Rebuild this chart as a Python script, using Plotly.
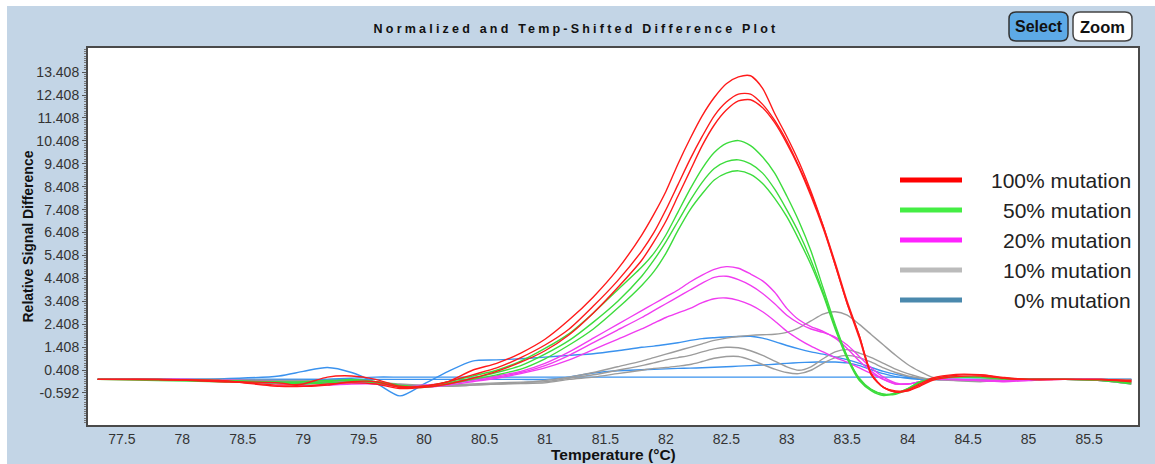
import plotly.graph_objects as go

# ---------------- data ----------------
temperature = [77.3, 77.8, 78.3, 78.8, 79.0, 79.2, 79.4, 79.6, 79.8, 80.0, 80.2, 80.4, 80.6, 80.8,
               81.0, 81.2, 81.4, 81.6, 81.8, 81.9, 82.0, 82.1, 82.2, 82.3, 82.4, 82.5, 82.6, 82.7, 82.8, 82.9,
               83.0, 83.1, 83.2, 83.3, 83.4, 83.5, 83.6, 83.7, 83.8, 83.9, 84.0, 84.1,
               84.2, 84.4, 84.6, 84.8, 85.0, 85.3, 85.6, 85.85]

mut100_a = [0.0, -0.02, -0.05, -0.25, -0.2, 0.1, 0.15, 0.0, -0.3, -0.3, -0.1, 0.4, 0.7, 1.15,
            1.75, 2.6, 3.6, 4.8, 6.3, 7.2, 8.2, 9.4, 10.5, 11.5, 12.3, 12.9, 13.2, 13.25, 12.7, 11.6,
            10.6, 9.5, 8.2, 6.7, 5.0, 3.3, 1.9, 0.2, -0.35, -0.55, -0.45, -0.2,
            0.05, 0.22, 0.2, 0.05, 0.0, 0.0, 0.0, -0.05]
mut100_b = [0.0, 0.0, -0.1, -0.15, -0.3, -0.25, -0.1, -0.1, -0.35, -0.3, -0.1, 0.2, 0.5, 0.95,
            1.5, 2.2, 3.2, 4.3, 5.6, 6.4, 7.4, 8.5, 9.6, 10.6, 11.5, 12.1, 12.45, 12.45, 12.0, 11.3,
            10.4, 9.3, 8.1, 6.7, 5.1, 3.4, 1.9, 0.25, -0.35, -0.55, -0.5, -0.25,
            0.0, 0.18, 0.2, 0.08, 0.0, 0.0, -0.02, -0.1]
mut100_c = [0.0, 0.0, -0.05, -0.3, -0.3, -0.2, -0.15, -0.2, -0.4, -0.35, -0.2, 0.05, 0.35, 0.75,
            1.25, 1.95, 2.9, 4.0, 5.2, 6.0, 6.9, 8.0, 9.1, 10.2, 11.1, 11.75, 12.15, 12.2, 11.85, 11.2,
            10.3, 9.25, 8.0, 6.6, 5.0, 3.3, 1.8, 0.2, -0.35, -0.5, -0.5, -0.3,
            -0.05, 0.12, 0.15, 0.05, 0.0, 0.0, 0.0, -0.05]

mut50_a = [0.0, 0.0, -0.05, -0.1, -0.15, -0.1, 0.0, -0.1, -0.3, -0.3, -0.1, 0.15, 0.4, 0.8,
           1.35, 2.0, 2.9, 3.9, 4.9, 5.5, 6.3, 7.3, 8.3, 9.2, 9.9, 10.3, 10.42, 10.2, 9.7, 9.0,
           8.0, 6.9, 5.6, 4.0, 2.4, 1.0, 0.05, -0.45, -0.65, -0.65, -0.45, -0.15,
           0.02, 0.12, 0.1, 0.05, 0.0, 0.0, -0.05, -0.15]
mut50_b = [0.0, 0.0, -0.05, -0.15, -0.2, -0.15, -0.1, -0.1, -0.25, -0.3, -0.15, 0.05, 0.3, 0.6,
           1.1, 1.7, 2.5, 3.4, 4.5, 5.2, 6.0, 6.9, 7.8, 8.6, 9.2, 9.5, 9.58, 9.4, 9.0, 8.3,
           7.4, 6.4, 5.2, 3.8, 2.3, 1.0, 0.0, -0.45, -0.65, -0.6, -0.4, -0.12,
           0.02, 0.1, 0.1, 0.03, 0.0, 0.0, -0.05, -0.2]
mut50_c = [0.0, -0.05, -0.1, -0.15, -0.1, -0.05, -0.05, -0.15, -0.3, -0.35, -0.2, 0.0, 0.2, 0.45,
           0.9, 1.5, 2.2, 3.1, 4.1, 4.7, 5.5, 6.5, 7.4, 8.1, 8.7, 9.0, 9.1, 8.95, 8.55, 7.9,
           7.1, 6.1, 5.0, 3.7, 2.2, 0.9, -0.05, -0.5, -0.7, -0.6, -0.4, -0.1,
           0.0, 0.1, 0.08, 0.02, 0.0, 0.0, -0.02, -0.1]

mut20_a = [0.0, 0.02, -0.05, -0.2, -0.2, -0.15, -0.1, -0.15, -0.3, -0.25, -0.15, 0.0, 0.15, 0.35,
           0.7, 1.2, 1.8, 2.4, 3.0, 3.3, 3.6, 3.9, 4.25, 4.55, 4.8, 4.92, 4.85, 4.6, 4.3, 3.8,
           3.1, 2.6, 2.3, 2.1, 1.8, 1.35, 0.8, 0.35, 0.0, -0.2, -0.2, -0.1,
           0.0, -0.02, -0.05, -0.1, -0.05, 0.0, -0.05, -0.2]
mut20_b = [0.0, 0.0, -0.05, -0.15, -0.15, -0.1, -0.05, -0.1, -0.25, -0.3, -0.2, -0.05, 0.1, 0.3,
           0.6, 1.05, 1.6, 2.15, 2.7, 3.0, 3.3, 3.6, 3.9, 4.2, 4.45, 4.5, 4.35, 4.1, 3.75, 3.3,
           2.8, 2.45, 2.2, 2.05, 1.85, 1.5, 1.0, 0.5, 0.1, -0.15, -0.2, -0.1,
           0.0, 0.0, -0.03, -0.05, 0.0, 0.0, -0.05, -0.15]
mut20_c = [0.0, 0.0, -0.02, -0.1, -0.25, -0.25, -0.2, -0.2, -0.3, -0.35, -0.25, -0.1, 0.05, 0.25,
           0.5, 0.85, 1.3, 1.75, 2.2, 2.45, 2.7, 2.9, 3.1, 3.35, 3.52, 3.55, 3.45, 3.25, 2.95, 2.55,
           2.1, 1.75, 1.45, 1.2, 0.95, 0.75, 0.5, 0.25, 0.0, -0.2, -0.2, -0.1,
           0.0, 0.0, -0.05, -0.08, 0.0, 0.0, 0.0, -0.1]

mut10_a = [0.0, 0.0, -0.05, -0.1, -0.15, -0.15, -0.1, -0.2, -0.3, -0.3, -0.3, -0.25, -0.2, -0.15,
           -0.05, 0.1, 0.3, 0.55, 0.8, 0.95, 1.1, 1.25, 1.4, 1.55, 1.7, 1.8, 1.87, 1.92, 1.95, 1.97,
           2.05, 2.25, 2.55, 2.85, 2.95, 2.8, 2.4, 1.95, 1.5, 1.05, 0.65, 0.35,
           0.1, -0.05, -0.1, -0.05, 0.0, 0.02, 0.0, -0.05]
mut10_b = [0.0, 0.0, -0.05, -0.1, -0.1, -0.05, -0.05, -0.1, -0.2, -0.25, -0.25, -0.2, -0.15, -0.12,
           -0.1, 0.05, 0.2, 0.4, 0.6, 0.72, 0.85, 0.95, 1.05, 1.2, 1.33, 1.4, 1.38, 1.25, 1.05, 0.8,
           0.55, 0.4, 0.55, 0.9, 1.2, 1.3, 1.15, 0.95, 0.7, 0.45, 0.25, 0.1,
           0.0, -0.05, -0.05, 0.0, 0.0, 0.0, 0.0, -0.05]
mut10_c = [0.0, 0.0, 0.0, -0.05, -0.05, -0.1, -0.1, -0.15, -0.25, -0.3, -0.3, -0.25, -0.2, -0.18,
           -0.15, 0.0, 0.1, 0.25, 0.4, 0.48, 0.52, 0.58, 0.65, 0.78, 0.92, 1.0, 1.0, 0.85, 0.65, 0.45,
           0.3, 0.25, 0.4, 0.7, 0.95, 1.05, 0.95, 0.75, 0.5, 0.3, 0.15, 0.05,
           0.0, 0.0, -0.03, 0.0, 0.0, 0.0, 0.0, 0.0]

mut0_a = [0.0, 0.0, 0.02, 0.15, 0.35, 0.52, 0.3, -0.15, -0.72, -0.2, 0.35, 0.8, 0.85, 0.9,
          0.97, 1.05, 1.12, 1.25, 1.4, 1.45, 1.52, 1.6, 1.7, 1.78, 1.82, 1.85, 1.87, 1.88, 1.8, 1.65,
          1.48, 1.33, 1.2, 1.1, 0.98, 0.86, 0.7, 0.52, 0.35, 0.22, 0.12, 0.05,
          0.0, 0.0, 0.0, 0.0, 0.0, 0.0, 0.0, 0.0]
mut0_b = [0.0, 0.0, 0.0, 0.0, 0.0, 0.0, 0.0, 0.0, 0.0, 0.0, 0.0, 0.0, 0.0, 0.0,
          0.0, 0.1, 0.28, 0.38, 0.42, 0.44, 0.46, 0.48, 0.49, 0.51, 0.53, 0.55, 0.58, 0.6, 0.63, 0.66,
          0.7, 0.73, 0.75, 0.76, 0.76, 0.72, 0.6, 0.42, 0.25, 0.12, 0.05, 0.0,
          0.0, 0.0, 0.0, 0.0, 0.0, 0.0, 0.0, 0.0]
mut0_c = [0.0, 0.0, 0.0, 0.0, 0.0, 0.0, 0.05, 0.1, 0.1, 0.1, 0.1, 0.1, 0.1, 0.1,
          0.1, 0.1, 0.1, 0.1, 0.1, 0.1, 0.1, 0.1, 0.1, 0.1, 0.1, 0.1, 0.1, 0.1, 0.1, 0.1,
          0.1, 0.1, 0.1, 0.1, 0.1, 0.1, 0.1, 0.1, 0.1, 0.1, 0.08, 0.04,
          0.0, 0.0, 0.0, 0.0, 0.0, 0.0, 0.0, 0.0]

y_tick_values = [13.408, 12.408, 11.408, 10.408, 9.408, 8.408, 7.408, 6.408, 5.408,
                 4.408, 3.408, 2.408, 1.408, 0.408, -0.592]
y_tick_labels = ["13.408", "12.408", "11.408", "10.408", "9.408", "8.408", "7.408", "6.408",
                 "5.408", "4.408", "3.408", "2.408", "1.408", "0.408", "-0.592"]
x_tick_values = [77.5, 78, 78.5, 79, 79.5, 80, 80.5, 81, 81.5, 82, 82.5, 83, 83.5, 84, 84.5, 85, 85.5]
x_tick_labels = ["77.5", "78", "78.5", "79", "79.5", "80", "80.5", "81", "81.5", "82",
                 "82.5", "83", "83.5", "84", "84.5", "85", "85.5"]

legend_labels = ["100% mutation", "50% mutation", "20% mutation", "10% mutation", "0% mutation"]
legend_colors = ["#FF0000", "#44EE44", "#FF22FF", "#BBBBBB", "#4A89AD"]

# ---------------- figure ----------------
FONT = "Liberation Sans, Arial, sans-serif"
W, H = 1155, 464
L, R, T, B = 88, 17, 48, 39
PW, PH = W - L - R, H - T - B


def px(xp):
    return (xp - L) / PW


def py(yp):
    return (H - B - yp) / PH


groups = [
    ([mut0_c, mut0_b, mut0_a], "#3A92EE"),
    ([mut10_c, mut10_b, mut10_a], "#9C9C9C"),
    ([mut20_c, mut20_b, mut20_a], "#F03CF0"),
    ([mut50_c, mut50_b, mut50_a], "#3CDC3C"),
    ([mut100_c, mut100_b, mut100_a], "#FF1A1A"),
]

fig = go.Figure()
for series, color in groups:
    for s in series:
        fig.add_trace(go.Scatter(
            x=temperature, y=s, mode="lines",
            line=dict(color=color, width=1.4, shape="spline", smoothing=0.7),
            showlegend=False, hoverinfo="skip"))

shapes = []
annotations = []

# white outer strips
shapes.append(dict(type="rect", xref="paper", yref="paper", x0=px(0), x1=px(7), y0=py(H), y1=py(0),
                   fillcolor="white", line=dict(width=0), layer="below"))
shapes.append(dict(type="rect", xref="paper", yref="paper", x0=px(0), x1=px(W), y0=py(6), y1=py(0),
                   fillcolor="white", line=dict(width=0), layer="below"))

# custom legend
legend_y = [180, 210, 240, 270, 300]
for lab, col, yy in zip(legend_labels, legend_colors, legend_y):
    shapes.append(dict(type="line", xref="paper", yref="paper", x0=px(900), x1=px(962),
                       y0=py(yy), y1=py(yy), line=dict(color=col, width=5)))
    annotations.append(dict(text=lab, xref="paper", yref="paper", x=px(1133), y=py(yy),
                            xanchor="right", yanchor="middle", showarrow=False,
                            font=dict(family=FONT, size=21, color="#222222")))


def rounded(x0, y0, x1, y1, r):
    pts = [
        f"M {px(x0 + r)} {py(y0)}",
        f"L {px(x1 - r)} {py(y0)}",
        f"Q {px(x1)} {py(y0)} {px(x1)} {py(y0 + r)}",
        f"L {px(x1)} {py(y1 - r)}",
        f"Q {px(x1)} {py(y1)} {px(x1 - r)} {py(y1)}",
        f"L {px(x0 + r)} {py(y1)}",
        f"Q {px(x0)} {py(y1)} {px(x0)} {py(y1 - r)}",
        f"L {px(x0)} {py(y0 + r)}",
        f"Q {px(x0)} {py(y0)} {px(x0 + r)} {py(y0)} Z",
    ]
    return " ".join(pts)


shapes.append(dict(type="path", xref="paper", yref="paper", path=rounded(1009, 12, 1068, 41, 7),
                   fillcolor="#5DAAE6", line=dict(color="#333333", width=1.5)))
shapes.append(dict(type="path", xref="paper", yref="paper", path=rounded(1073, 12, 1132, 41, 7),
                   fillcolor="#FFFFFF", line=dict(color="#444444", width=1.5)))
annotations.append(dict(text="<b>Select</b>", xref="paper", yref="paper", x=px(1038.5), y=py(27),
                        xanchor="center", yanchor="middle", showarrow=False,
                        font=dict(family=FONT, size=16, color="#111111")))
annotations.append(dict(text="<b>Zoom</b>", xref="paper", yref="paper", x=px(1102.5), y=py(27),
                        xanchor="center", yanchor="middle", showarrow=False,
                        font=dict(family=FONT, size=16.5, color="#111111")))

# axis titles
annotations.append(dict(text="<b>Relative Signal Difference</b>", xref="paper", yref="paper",
                        x=px(27), y=0.5, textangle=-90, xanchor="center", yanchor="middle",
                        showarrow=False, font=dict(family=FONT, size=14, color="#111111")))
annotations.append(dict(text="<b>Temperature (°C)</b>", xref="paper", yref="paper",
                        x=0.5, y=py(455), xanchor="center", yanchor="middle",
                        showarrow=False, font=dict(family=FONT, size=15.5, color="#111111")))

fig.update_layout(
    width=W, height=H, autosize=False,
    margin=dict(l=L, r=R, t=T, b=B),
    paper_bgcolor="#C3D5E6", plot_bgcolor="#FFFFFF",
    title=dict(text="Normalized and Temp-Shifted Difference Plot", x=576 / W, xanchor="center",
               y=1 - 29 / H, yanchor="middle", yref="container", xref="container",
               font=dict(family=FONT, size=12.5, color="#111111", weight=700)),
    shapes=shapes, annotations=annotations,
    xaxis=dict(range=[77.22, 85.905], tickvals=x_tick_values, ticktext=x_tick_labels,
               showgrid=False, zeroline=False, showline=True, mirror=True,
               linecolor="#4A4A4A", linewidth=2, ticks="", tickfont=dict(family=FONT, size=14, color="#333333")),
    yaxis=dict(range=[-1.99, 14.46], tickvals=y_tick_values, ticktext=y_tick_labels,
               showgrid=False, zeroline=False, showline=True, mirror=True,
               linecolor="#4A4A4A", linewidth=2, ticks="outside", ticklen=4, tickcolor="#555555",
               minor=dict(ticks="outside", ticklen=2, dtick=0.1, tick0=0.008, tickcolor="#777777", showgrid=False),
               tickfont=dict(family=FONT, size=14, color="#333333")),
)

post = "document.querySelectorAll('.gtitle').forEach(function(e){e.style.letterSpacing='3.2px';});"
fig.write_html("out.html", post_script=post)
